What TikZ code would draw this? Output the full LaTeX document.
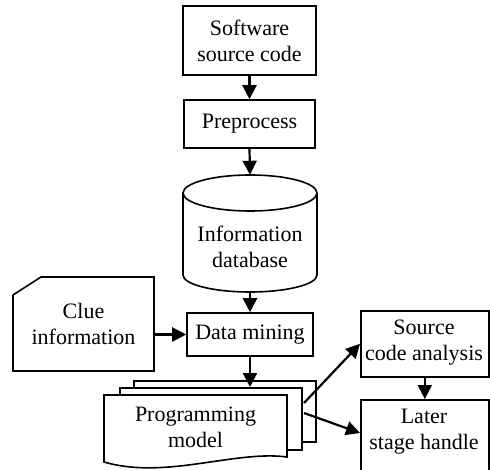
\documentclass[tikz,border=0pt]{standalone}
\usepackage{fontspec}
\setmainfont{Liberation Serif}
\usetikzlibrary{arrows.meta}
\begin{document}
\begin{tikzpicture}[x=1pt,y=-1pt,
  box/.style={draw,line width=1.6pt,fill=white,inner sep=0pt,align=center},
  txt/.style={inner sep=0pt,align=center},
  outline/.style={line width=1.6pt,fill=white},
  flow/.style={line width=2.2pt,-{Triangle[width=14pt,length=14pt]}},
  every node/.style={font=\fontsize{22}{26}\selectfont}]
\useasboundingbox (0,0) rectangle (490,470);

% main column
\node[box,minimum width=133,minimum height=69] (src) at (249.5,40.5) {Software\\source code};
\node[box,minimum width=131,minimum height=48] (pre) at (249.5,124) {Preprocess};

% database cylinder (y axis points down here)
\node[inner sep=0pt,minimum width=134,minimum height=117] (db) at (250,233.5) {};
\draw[outline]
  (183,193) -- (183,275) arc[start angle=180,end angle=0,x radius=67,y radius=17]
  -- (317,193) arc[start angle=360,end angle=180,x radius=67,y radius=18]
  arc[start angle=180,end angle=0,x radius=67,y radius=18];
\node[txt] (dbtext) at (250,247) {Information\\database};

\node[box,minimum width=126,minimum height=43] (dm) at (250,334.5) {Data mining};

% clue information (card shape)
\node[inner sep=0pt,minimum width=141,minimum height=94] (clue) at (83.5,324) {};
\draw[outline] (13,295) -- (41,277) -- (154,277) -- (154,371) -- (13,371) -- cycle;
\node[txt] (cluetext) at (83.5,324) {Clue\\information};

% stacked documents
\node[box,minimum width=182,minimum height=61,anchor=north west] (pmback) at (133,380) {};
\node[box,minimum width=182,minimum height=62,anchor=north west] (pmmid) at (119,387) {};
\node[inner sep=0pt,minimum width=183,minimum height=62,anchor=north west] (pm) at (104,395) {};
\draw[outline]
  (104,395) -- (287,395) -- (287,457)
  .. controls (235,450) and (165,480) .. (104,462) -- cycle;
\node[txt] (pmtext) at (195.5,427) {Programming\\model};

% right column
\node[box,minimum width=128,minimum height=66,anchor=north west] (sca) at (360,310) {};
\node[txt] (scatext) at (424,343) {Source\\code analysis};
\node[box,minimum width=128,minimum height=80,anchor=north west] (lsh) at (360,399) {};
\node[txt] (lshtext) at (424,432) {Later\\stage handle};

\coordinate (pmout1) at (304,403);
\coordinate (pmout2) at (304,413);
\coordinate (lshin) at (360,433);

% connectors
\draw[flow] (src.south) -- (pre.north);
\draw[flow] (pre.south) -- (db.north);
\draw[flow] (db.south) -- (dm.north);
\draw[flow] (clue.east |- dm.west) -- (dm.west);
\draw[flow] (dm.south) -- (dm.south |- pmmid.north);
\draw[flow] (pmout1) -- (sca.west);
\draw[flow] (pmout2) -- (lshin);
\draw[flow] (sca.south) -- (sca.south |- lsh.north);
\end{tikzpicture}
\end{document}
